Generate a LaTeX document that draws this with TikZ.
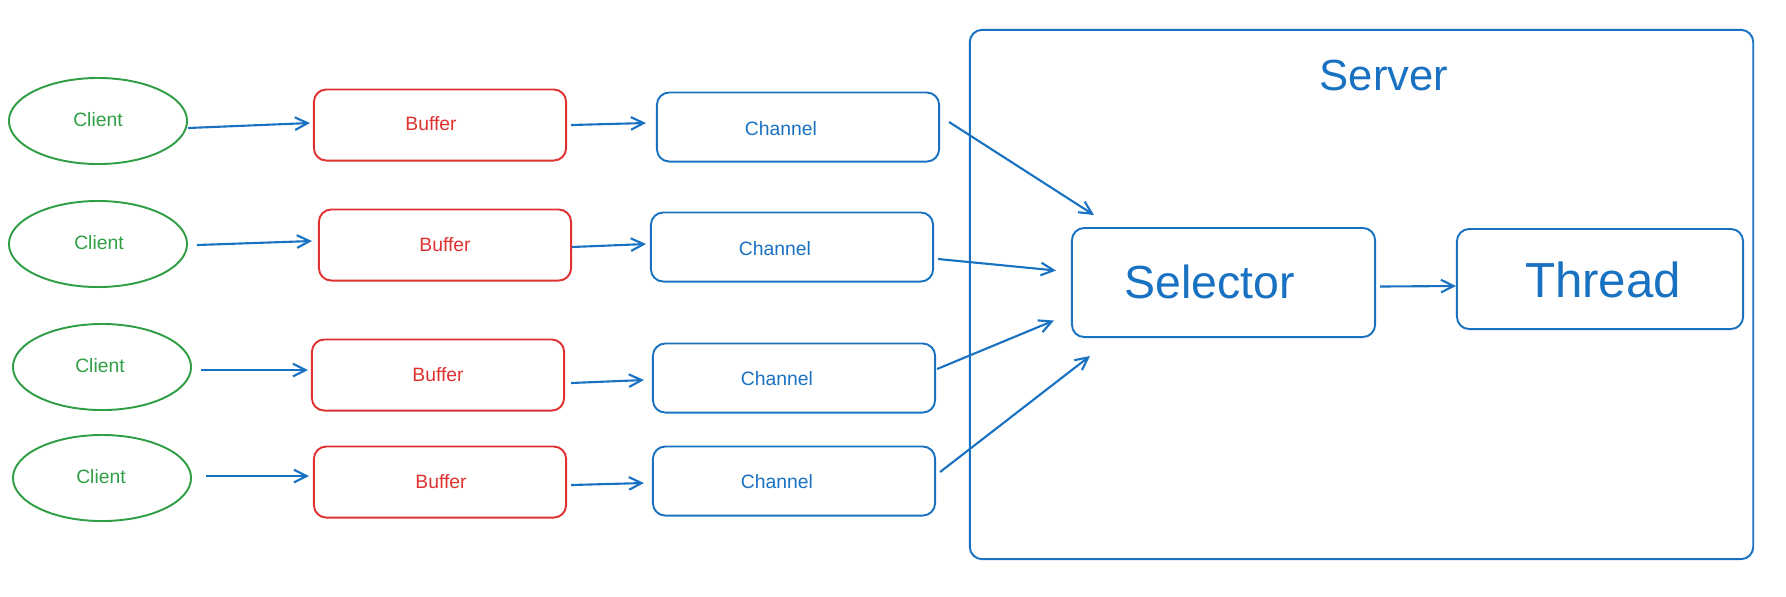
\documentclass[tikz,border=0pt]{standalone}
\usepackage{fontspec}
\setmainfont{Liberation Sans}
\usetikzlibrary{arrows.meta,shapes.geometric}
\definecolor{exblue}{HTML}{1971C2}
\definecolor{exred}{HTML}{E03131}
\definecolor{exgreen}{HTML}{2F9E44}
\begin{document}
\begin{tikzpicture}[x=0.01cm,y=-0.01cm,
  clientbox/.style={ellipse,draw=exgreen,line width=0.55pt,minimum width=1.78cm,minimum height=0.86cm,inner sep=0pt},
  bufbox/.style={draw=exred,rounded corners=3.5pt,line width=0.55pt,minimum width=2.52cm,minimum height=0.71cm,inner sep=0pt},
  chanbox/.style={draw=exblue,rounded corners=3.5pt,line width=0.55pt,minimum width=2.82cm,minimum height=0.69cm,inner sep=0pt},
  bigbox/.style={draw=exblue,rounded corners=3.5pt,line width=0.55pt,inner sep=0pt},
  smalltext/.style={inner sep=0pt,font=\fontsize{5.5}{6.6}\selectfont},
  ctext/.style={smalltext,text=exgreen},
  btext/.style={smalltext,text=exred},
  chtext/.style={smalltext,text=exblue},
  flow/.style={draw=exblue,line width=0.6pt,-{Straight Barb[length=3.6pt,width=3.6pt]}},
]
\useasboundingbox (0,0) rectangle (1786,596);

% server frame
\node[bigbox,minimum width=7.83cm,minimum height=5.29cm] (server) at (1361.5,294.5) {};
\node[inner sep=0pt,text=exblue,font=\fontsize{12.4}{14}\selectfont] (servertxt) at (1384,75) {Server};

% clients
\node[clientbox] (c1) at (98,121) {};
\node[clientbox] (c2) at (98,244) {};
\node[clientbox] (c3) at (102,367) {};
\node[clientbox] (c4) at (102,478) {};
\node[ctext] (c1t) at (98,120) {Client};
\node[ctext] (c2t) at (99,243) {Client};
\node[ctext] (c3t) at (100,366) {Client};
\node[ctext] (c4t) at (101,477) {Client};

% buffers
\node[bufbox] (b1) at (440,125) {};
\node[bufbox] (b2) at (445,245) {};
\node[bufbox] (b3) at (438,375) {};
\node[bufbox] (b4) at (440,482) {};
\node[btext] (b1t) at (431,124) {Buffer};
\node[btext] (b2t) at (445,245) {Buffer};
\node[btext] (b3t) at (438,375) {Buffer};
\node[btext] (b4t) at (441,482) {Buffer};

% channels
\node[chanbox] (ch1) at (798,127) {};
\node[chanbox] (ch2) at (792,247) {};
\node[chanbox] (ch3) at (794,378) {};
\node[chanbox] (ch4) at (794,481) {};
\node[chtext] (ch1t) at (781,129) {Channel};
\node[chtext] (ch2t) at (775,249) {Channel};
\node[chtext] (ch3t) at (777,379) {Channel};
\node[chtext] (ch4t) at (777,482) {Channel};

% selector and thread
\node[bigbox,minimum width=3.03cm,minimum height=1.09cm] (sel) at (1223.5,282.5) {};
\node[inner sep=0pt,text=exblue,font=\fontsize{13.2}{15}\selectfont] (selt) at (1210,282) {Selector};
\node[bigbox,minimum width=2.86cm,minimum height=1.00cm] (th) at (1600,279) {};
\node[inner sep=0pt,text=exblue,font=\fontsize{14}{16}\selectfont] (tht) at (1603,280) {Thread};

% client -> buffer
\draw[flow] ([shift={(0,7)}]c1.east) -- ([shift={(-3,-2)}]b1.west);
\draw[flow] ([shift={(9,1)}]c2.east) -- ([shift={(-6,-4)}]b2.west);
\draw[flow] ([shift={(9,3)}]c3.east) -- ([shift={(-3,-5)}]b3.west);
\draw[flow] ([shift={(14,-2)}]c4.east) -- ([shift={(-4,-6)}]b4.west);

% buffer -> channel
\draw[flow] ([shift={(4,0)}]b1.east) -- ([shift={(-10,-4)}]ch1.west);
\draw[flow] ([shift={(0,2)}]b2.east) -- ([shift={(-4,-3)}]ch2.west);
\draw[flow] ([shift={(6,8)}]b3.east) -- ([shift={(-8,2)}]ch3.west);
\draw[flow] ([shift={(4,3)}]b4.east) -- ([shift={(-8,2)}]ch4.west);

% channel -> selector
\coordinate (s1) at ([shift={(23,-12)}]sel.north west);
\coordinate (s2) at ([shift={(-15,-12)}]sel.west);
\coordinate (s3) at ([shift={(-17,38)}]sel.west);
\coordinate (s4) at ([shift={(19,18)}]sel.south west);
\coordinate (o1) at ([shift={(9,-5)}]ch1.east);
\coordinate (o2) at ([shift={(4,12)}]ch2.east);
\coordinate (o3) at ([shift={(1,-9)}]ch3.east);
\coordinate (o4) at ([shift={(4,-9)}]ch4.east);
\draw[flow] (o1) -- (s1);
\draw[flow] (o2) -- (s2);
\draw[flow] (o3) -- (s3);
\draw[flow] (o4) -- (s4);

% selector -> thread
\coordinate (st1) at ([shift={(4,4)}]sel.east);
\coordinate (st2) at ([shift={(0,7)}]th.west);
\draw[flow] (st1) -- (st2);
\end{tikzpicture}
\end{document}
